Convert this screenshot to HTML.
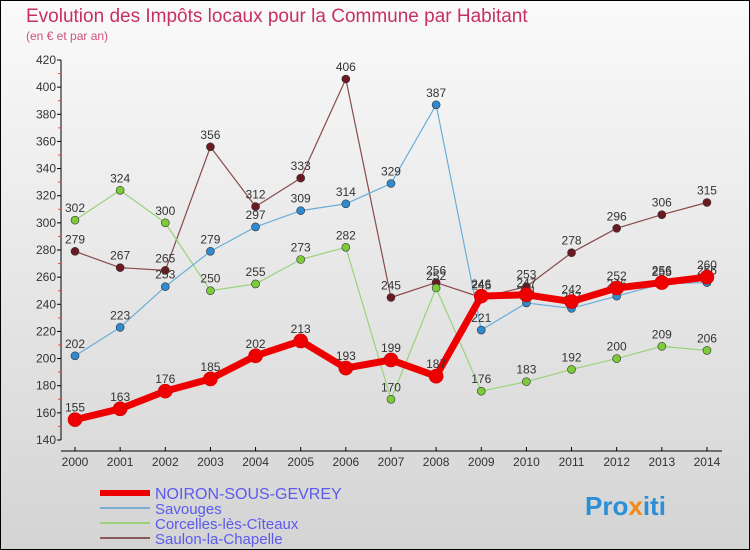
<!DOCTYPE html>
<html><head><meta charset="utf-8"><style>
body{margin:0}
#c{position:relative;width:750px;height:550px;background:linear-gradient(#fafafa,#d4d4d4);font-family:"Liberation Sans",sans-serif;overflow:hidden;box-sizing:border-box;border:1px solid #000}
</style></head><body>
<div id="c">
<svg id="s" width="750" height="550" style="position:absolute;left:-1px;top:-1px">
<text x="26" y="22" font-size="19" fill="#c8305f">Evolution des Impôts locaux pour la Commune par Habitant</text>
<text x="26" y="40" font-size="12" fill="#d0507a">(en € et par an)</text>
<g id="axes"></g><g id="series"></g><g id="legend"></g>
<text x="585" y="515" font-size="26" font-weight="bold" fill="#2a8fd6">Pro<tspan fill="#f08a1c">x</tspan>iti</text>
</svg>
</div>
<script>
const years=[2000,2001,2002,2003,2004,2005,2006,2007,2008,2009,2010,2011,2012,2013,2014];
const yTicks=[140,160,180,200,220,240,260,280,300,320,340,360,380,400,420];
const noiron=[155,163,176,185,202,213,193,199,187,246,247,242,252,256,260];
const savouges=[202,223,253,279,297,309,314,329,387,221,241,237,246,255,256];
const corcelles=[302,324,300,250,255,273,282,170,252,176,183,192,200,209,206];
const saulon=[279,267,265,356,312,333,406,245,256,245,253,278,296,306,315];
const names=["NOIRON-SOUS-GEVREY","Savouges","Corcelles-lès-Cîteaux","Saulon-la-Chapelle"];
const NS="http://www.w3.org/2000/svg";
const X=i=>75+i*45.14, Y=v=>440-(v-140)*380/280;
function mk(t,a,p){const e=document.createElementNS(NS,t);for(const k in a)e.setAttribute(k,a[k]);p.appendChild(e);return e;}
const ax=document.getElementById('axes');
mk('line',{x1:61,y1:60,x2:61,y2:440,stroke:'#000'},ax);
mk('line',{x1:61,y1:451,x2:722,y2:451,stroke:'#000'},ax);
yTicks.forEach(v=>{mk('line',{x1:57,y1:Y(v),x2:61,y2:Y(v),stroke:'#000'},ax);
 if(v<420)mk('line',{x1:58,y1:Y(v+10),x2:61,y2:Y(v+10),stroke:'#e44'},ax);
 const t=mk('text',{x:56,y:Y(v)+4,'font-size':12,fill:'#333','text-anchor':'end'},ax);t.textContent=v;
 
 });
years.forEach((y,i)=>{mk('line',{x1:X(i),y1:447,x2:X(i),y2:451,stroke:'#000'},ax);
 const t=mk('text',{x:X(i),y:466,'font-size':12,fill:'#333','text-anchor':'middle'},ax);t.textContent=y;
 
 });
const sg=document.getElementById('series');
const cfg=[[saulon,'#6b1a22','#8a4a4a',1.2,4,'saulon'],[corcelles,'#7ccc3a','#9ad27a',1.2,4,'corcelles'],[savouges,'#2f8ad0','#6aaed8',1.2,4,'savouges'],[noiron,'#ee0000','#ee0000',7,7,'noiron']];
cfg.forEach(([d,dot,ln,w,r,n])=>{
 const g=mk('g',{},sg);
 
 
 mk('polyline',{points:d.map((v,i)=>X(i)+','+Y(v)).join(' '),fill:'none',stroke:ln,'stroke-width':w,'stroke-linejoin':'round'},g);
 d.forEach((v,i)=>{const c=mk('circle',{cx:X(i),cy:Y(v),r:r,fill:dot,stroke:n=='noiron'?'#c00':'#333','stroke-width':0.6},g);
  
  
  const t=mk('text',{x:X(i),y:Y(v)-8,'font-size':12,fill:'#333','text-anchor':'middle'},g);t.textContent=v;
  
  });
});
const lg=document.getElementById('legend');
[['#ee0000',6],['#7aaed0',2],['#9ad27a',2],['#8a5a5a',2]].forEach(([c,w],i)=>{
 const y=493+i*15;
 const l=mk('line',{x1:100,y1:y,x2:150,y2:y,stroke:c,'stroke-width':w},lg);
 
 
 const t=mk('text',{x:155,y:y+6,'font-size':i==0?16:15,fill:'#5a5aee'},lg);t.textContent=names[i];
 
 
});
</script>
</body></html>
